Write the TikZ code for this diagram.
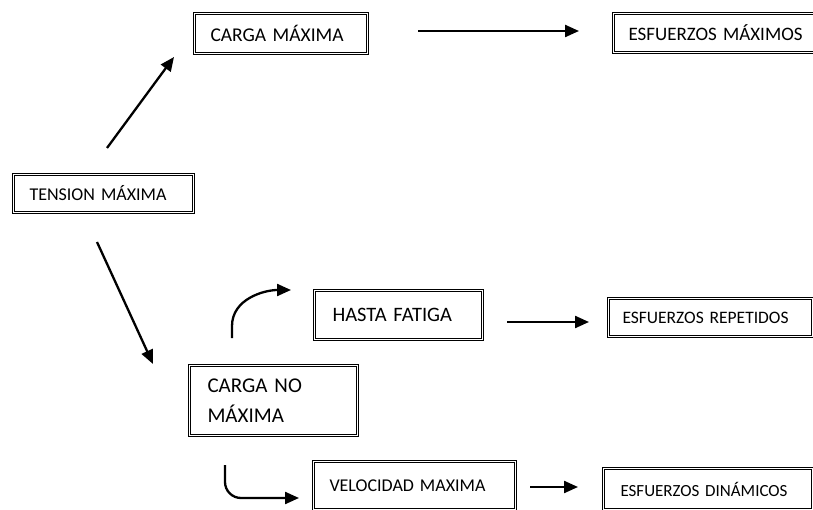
\documentclass[tikz,border=0pt]{standalone}
\usepackage{fontspec}
\setmainfont{Carlito}
\usepackage{tikz}
\usetikzlibrary{arrows.meta}
\tikzset{
  caja/.style={draw,double,double distance=1.5pt,line width=1pt,anchor=north west,
               align=left,inner xsep=16pt,inner ysep=0pt},
  flecha/.style={-{Triangle[length=14pt,width=12pt]},line width=2.3pt,black}
}
\begin{document}
\begin{tikzpicture}[x=1pt,y=-1pt]
  \useasboundingbox (0,0) rectangle (813,510);
  \node[caja,text width=148pt,minimum height=38pt,font=\fontsize{18}{22}\selectfont] (ten) at (13,174) {TENSION MÁXIMA};
  \node[caja,text width=141pt,minimum height=40pt,font=\fontsize{19.5}{23}\selectfont] (cmax) at (194,13) {CARGA MÁXIMA};
  \node[caja,text width=180pt,minimum height=39pt,inner xsep=15pt,font=\fontsize{19}{23}\selectfont] (emax) at (613,13) {ESFUERZOS MÁXIMOS};
  \node[caja,text width=132pt,minimum height=49pt,inner xsep=18pt,font=\fontsize{20.5}{24}\selectfont] (fat) at (314,290) {HASTA FATIGA};
  \node[caja,text width=176pt,minimum height=38pt,inner xsep=14pt,font=\fontsize{17.5}{21}\selectfont] (erep) at (608,298) {ESFUERZOS REPETIDOS};
  \node[caja,text width=132pt,minimum height=70pt,inner xsep=18pt,font=\fontsize{21}{30}\selectfont] (cno) at (189,365) {CARGA NO\\MÁXIMA};
  \node[caja,text width=170pt,minimum height=48pt,font=\fontsize{18}{22}\selectfont] (vel) at (313,461) {VELOCIDAD MAXIMA};
  \node[caja,text width=175pt,minimum height=41pt,inner xsep=17pt,font=\fontsize{17}{21}\selectfont] (edin) at (603,468) {ESFUERZOS DINÁMICOS};
  \coordinate (p1) at (107,148);  \coordinate (q1) at (174,57);
  \coordinate (p2) at (97,242);   \coordinate (q2) at (153,364);
  \coordinate (p3) at (418,31);   \coordinate (q3) at (579,31);
  \coordinate (p4) at (232,338);  \coordinate (q4) at (291,290);
  \coordinate (p5) at (507,322);  \coordinate (q5) at (589,322);
  \coordinate (p6) at (225,465);  \coordinate (q6) at (299,498);
  \coordinate (p7) at (530,487);  \coordinate (q7) at (578,487);
  \draw[flecha] (p1) -- (q1);
  \draw[flecha] (p2) -- (q2);
  \draw[flecha] (p3) -- (q3);
  \draw[flecha] (p4) -- ++(0,-12) to[out=90,in=180] (q4);
  \draw[flecha] (p5) -- (q5);
  \draw[flecha,rounded corners=16pt] (p6) |- (q6);
  \draw[flecha] (p7) -- (q7);
\end{tikzpicture}
\end{document}
